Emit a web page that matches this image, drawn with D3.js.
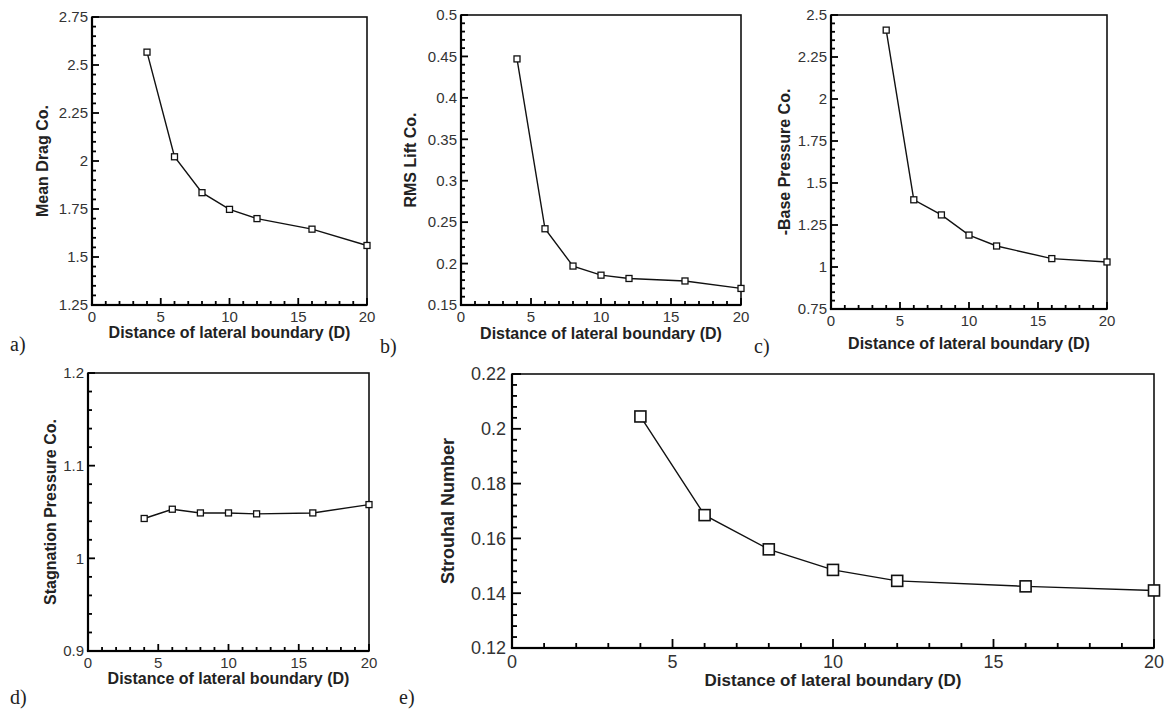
<!DOCTYPE html>
<html>
<head>
<meta charset="utf-8">
<script src="https://cdn.jsdelivr.net/npm/d3@7"></script>
<style>
  html, body { margin: 0; padding: 0; background: #fff; }
  svg { display: block; }
</style>
</head>
<body>
<svg id="chart" width="1172" height="711"></svg>
<script>
// ---- data ----
const distances = [4, 6, 8, 10, 12, 16, 20];
const meanDrag = [2.567, 2.022, 1.835, 1.748, 1.700, 1.645, 1.560];
const rmsLift = [0.447, 0.242, 0.197, 0.186, 0.182, 0.179, 0.170];
const basePressure = [2.41, 1.40, 1.31, 1.19, 1.125, 1.05, 1.03];
const stagnationPressure = [1.043, 1.053, 1.049, 1.049, 1.048, 1.049, 1.058];
const strouhal = [0.2045, 0.1685, 0.1560, 0.1485, 0.1445, 0.1425, 0.1410];

const xTicks = [0, 5, 10, 15, 20];
const dragTicks = [1.25, 1.5, 1.75, 2, 2.25, 2.5, 2.75];
const liftTicks = [0.15, 0.2, 0.25, 0.3, 0.35, 0.4, 0.45, 0.5];
const baseTicks = [0.75, 1, 1.25, 1.5, 1.75, 2, 2.25, 2.5];
const stagTicks = [0.9, 1, 1.1, 1.2];
const stTicks = [0.12, 0.14, 0.16, 0.18, 0.2, 0.22];

const xTitle = "Distance of lateral boundary (D)";

// ---- layout ----
const panels = [
  { values: meanDrag, ticks: dragTicks, minorStep: 0.05, yTitle: "Mean Drag Co.", label: "a)",
    L: 92, R: 367, T: 17, B: 305, yTitleX: 42, labelX: 10, labelY: 351, xTitleY: 338, small: true },
  { values: rmsLift, ticks: liftTicks, minorStep: 0.01, yTitle: "RMS Lift Co.", label: "b)",
    L: 461, R: 741, T: 15, B: 305, yTitleX: 410, labelX: 380, labelY: 353, xTitleY: 339, small: true },
  { values: basePressure, ticks: baseTicks, minorStep: 0.05, yTitle: "-Base Pressure Co.", label: "c)",
    L: 831, R: 1107, T: 15, B: 309, yTitleX: 784, labelX: 754, labelY: 353, xTitleY: 349, small: true },
  { values: stagnationPressure, ticks: stagTicks, minorStep: 0.02, yTitle: "Stagnation Pressure Co.", label: "d)",
    L: 88, R: 369, T: 373, B: 651, yTitleX: 50, labelX: 10, labelY: 704, xTitleY: 684, small: true },
  { values: strouhal, ticks: stTicks, minorStep: 0.004, yTitle: "Strouhal Number", label: "e)",
    L: 512, R: 1154, T: 374, B: 648, yTitleX: 448, labelX: 399, labelY: 704, xTitleY: 686, small: false }
];

const svg = d3.select("#chart");
const FONT = "'Liberation Sans', Arial, sans-serif";

function fmt(v) { return String(+v.toFixed(3)); }

panels.forEach(p => {
  const ymin = d3.min(p.ticks), ymax = d3.max(p.ticks);
  const x = d3.scaleLinear().domain([0, 20]).range([p.L, p.R]);
  const y = d3.scaleLinear().domain([ymin, ymax]).range([p.B, p.T]);
  const g = svg.append("g");
  const tickFont = p.small ? 15 : 18;
  const titleFont = p.small ? 16 : 18;
  const majLen = p.small ? 7 : 9;
  const minLen = p.small ? 4 : 5;
  const marker = p.small ? 6 : 11;

  // frame
  g.append("rect").attr("x", p.L).attr("y", p.T).attr("width", p.R - p.L).attr("height", p.B - p.T)
    .attr("fill", "none").attr("stroke", "#111").attr("stroke-width", 1.6);

  // tick values
  const xMinor = d3.range(0, 21, 1).filter(v => v % 5 !== 0);
  const nMinor = Math.round((ymax - ymin) / p.minorStep);
  const yMinor = d3.range(0, nMinor + 1).map(i => ymin + i * p.minorStep)
    .filter(v => !p.ticks.some(t => Math.abs(t - v) < 1e-9));

  const xTickData = xMinor.map(v => ({ v, len: minLen })).concat(xTicks.map(v => ({ v, len: majLen })));
  const yTickData = yMinor.map(v => ({ v, len: minLen })).concat(p.ticks.map(v => ({ v, len: majLen })));

  // ticks: small filled rectangles
  xTickData.forEach(t => {
    g.append("rect").attr("x", x(t.v) - 0.9).attr("y", p.B - t.len)
      .attr("width", 1.8).attr("height", t.len).attr("fill", "#000");
  });
  yTickData.forEach(t => {
    g.append("rect").attr("x", p.L).attr("y", y(t.v) - 0.9)
      .attr("width", t.len).attr("height", 1.8).attr("fill", "#000");
  });
  // heavier left and bottom axis
  g.append("rect").attr("x", p.L - 1.1).attr("y", p.T).attr("width", 2.2).attr("height", p.B - p.T).attr("fill", "#000");
  g.append("rect").attr("x", p.L - 1.1).attr("y", p.B - 1.1).attr("width", p.R - p.L + 1.1).attr("height", 2.2).attr("fill", "#000");

  // tick labels
  xTicks.forEach(v => {
    g.append("text").attr("x", x(v)).attr("y", p.B + (p.small ? 6 : 7)).attr("dy", "0.72em")
      .attr("text-anchor", "middle").attr("font-family", FONT).attr("font-size", tickFont)
      .attr("fill", "#333").text(d3.format("d")(v));
  });
  p.ticks.forEach(v => {
    g.append("text").attr("x", p.L - (p.small ? 4 : 6)).attr("y", y(v)).attr("dy", "0.35em")
      .attr("text-anchor", "end").attr("font-family", FONT).attr("font-size", tickFont)
      .attr("fill", "#333").text(fmt(v));
  });

  // data line
  const pts = distances.map((d, i) => [d, p.values[i]]);
  g.append("path").datum(pts)
    .attr("fill", "none").attr("stroke", "#111").attr("stroke-width", 1.4)
    .attr("d", d3.line().x(d => x(d[0])).y(d => y(d[1])));
  g.selectAll("rect.mk").data(pts).enter().append("rect").attr("class", "mk")
    .attr("x", d => x(d[0]) - marker / 2).attr("y", d => y(d[1]) - marker / 2)
    .attr("width", marker).attr("height", marker)
    .attr("fill", "#fff").attr("stroke", "#111").attr("stroke-width", p.small ? 1.3 : 1.6);

  // titles
  g.append("text").attr("x", (p.L + p.R) / 2).attr("y", p.xTitleY)
    .attr("text-anchor", "middle").attr("font-family", FONT)
    .attr("font-weight", "bold").attr("font-size", p.small ? titleFont : 17).attr("fill", "#222")
    .text(xTitle);
  g.append("text").attr("transform", `translate(${p.yTitleX},${(p.T + p.B) / 2}) rotate(-90)`)
    .attr("text-anchor", "middle").attr("dy", "0.35em")
    .attr("font-family", FONT)
    .attr("font-weight", "bold").attr("font-size", titleFont).attr("fill", "#222")
    .text(p.yTitle);

  // panel label
  svg.append("text").attr("x", p.labelX).attr("y", p.labelY)
    .attr("font-family", "'Liberation Serif', 'Times New Roman', serif")
    .attr("font-size", 20).attr("fill", "#222").text(p.label);
});
</script>
</body>
</html>
